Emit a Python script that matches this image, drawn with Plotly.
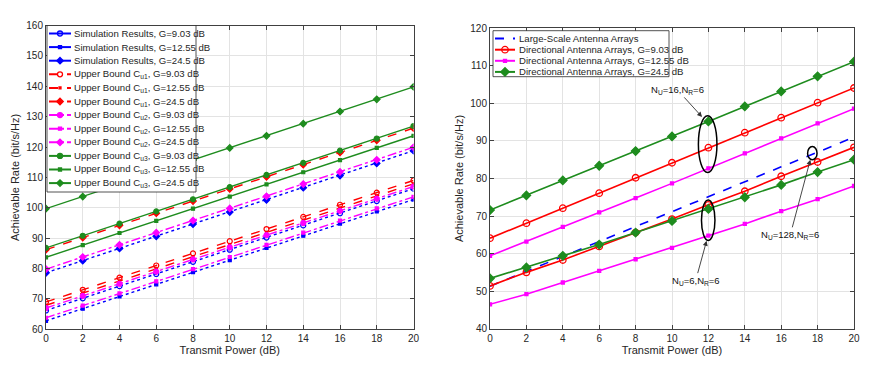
import plotly.graph_objects as go

W, H = 869, 378

# ---------------- data ----------------
power = [0, 2, 4, 6, 8, 10, 12, 14, 16, 18, 20]
x_ticks = [0, 2, 4, 6, 8, 10, 12, 14, 16, 18, 20]
left_y_ticks = [60, 70, 80, 90, 100, 110, 120, 130, 140, 150, 160]
right_y_ticks = [40, 50, 60, 70, 80, 90, 100, 110, 120]

# Left panel
sim_g903 = [66.2, 70.2, 74.2, 78.2, 82.2, 86.2, 90.2, 94.2, 98.2, 102.2, 106.3]
sim_g1255 = [62.8, 66.8, 70.8, 74.8, 78.8, 82.8, 86.8, 90.8, 94.8, 98.8, 102.7]
sim_g245 = [78.6, 82.6, 86.6, 90.6, 94.6, 98.6, 102.6, 106.6, 110.6, 114.6, 118.8]
cu1_g903 = [69.0, 73.0, 77.0, 81.0, 85.0, 89.0, 93.0, 97.0, 101.0, 105.0, 109.0]
cu1_g1255 = [67.9, 71.9, 75.9, 79.9, 83.9, 87.9, 91.9, 95.9, 99.9, 103.9, 107.9]
cu1_g245 = [86.2, 90.2, 94.2, 98.2, 102.2, 106.2, 110.2, 114.2, 118.2, 122.2, 126.2]
cu2_g903 = [67.0, 71.0, 75.0, 79.0, 83.0, 87.0, 91.0, 95.0, 99.0, 103.0, 107.0]
cu2_g1255 = [63.8, 67.8, 71.8, 75.8, 79.8, 83.8, 87.8, 91.8, 95.8, 99.8, 103.6]
cu2_g245 = [79.8, 83.8, 87.8, 91.8, 95.8, 99.8, 103.8, 107.8, 111.8, 115.8, 119.9]
cu3_g903 = [86.8, 90.8, 94.8, 98.8, 102.8, 106.8, 110.8, 114.8, 118.8, 122.8, 126.9]
cu3_g1255 = [83.7, 87.7, 91.7, 95.7, 99.7, 103.7, 107.7, 111.7, 115.7, 119.7, 123.7]
cu3_g245 = [99.7, 103.7, 107.7, 111.7, 115.7, 119.7, 123.7, 127.7, 131.7, 135.7, 139.8]

left_names = [
    "Simulation Results, G=9.03 dB",
    "Simulation Results, G=12.55 dB",
    "Simulation Results, G=24.5 dB",
    "Upper Bound C<sub>u1</sub>, G=9.03 dB",
    "Upper Bound C<sub>u1</sub>, G=12.55 dB",
    "Upper Bound C<sub>u1</sub>, G=24.5 dB",
    "Upper Bound C<sub>u2</sub>, G=9.03 dB",
    "Upper Bound C<sub>u2</sub>, G=12.55 dB",
    "Upper Bound C<sub>u2</sub>, G=24.5 dB",
    "Upper Bound C<sub>u3</sub>, G=9.03 dB",
    "Upper Bound C<sub>u3</sub>, G=12.55 dB",
    "Upper Bound C<sub>u3</sub>, G=24.5 dB",
]
left_series = [sim_g903, sim_g1255, sim_g245, cu1_g903, cu1_g1255, cu1_g245,
               cu2_g903, cu2_g1255, cu2_g245, cu3_g903, cu3_g1255, cu3_g245]

# Right panel
large_scale = [51.3, 55.3, 59.2, 63.2, 67.2, 71.2, 75.1, 79.1, 83.1, 87.0, 91.0]
dir_g903_nu16 = [64.1, 68.1, 72.1, 76.1, 80.2, 84.2, 88.2, 92.2, 96.2, 100.2, 104.1]
dir_g1255_nu16 = [59.4, 63.2, 67.1, 71.0, 74.8, 78.7, 82.7, 86.7, 90.7, 94.7, 98.6]
dir_g245_nu16 = [71.6, 75.5, 79.5, 83.4, 87.3, 91.2, 95.2, 99.2, 103.2, 107.2, 111.1]
dir_g903_nu6 = [51.4, 55.0, 58.3, 61.9, 65.6, 69.2, 73.0, 76.6, 80.6, 84.4, 88.3]
dir_g1255_nu6 = [46.5, 49.2, 52.3, 55.4, 58.5, 61.5, 64.8, 67.9, 71.3, 74.5, 78.0]
dir_g245_nu6 = [53.4, 56.3, 59.4, 62.4, 65.6, 68.7, 71.9, 75.0, 78.3, 81.7, 85.0]

right_names = [
    "Large-Scale Antenna Arrays",
    "Directional Antenna Arrays, G=9.03 dB",
    "Directional Antenna Arrays, G=12.55 dB",
    "Directional Antenna Arrays, G=24.5 dB",
]

# ---------------- styles ----------------
BLUE, RED, MAG, GRN = "#0000FF", "#FF0000", "#FF00FF", "#1E8C1E"
FONT = "Liberation Sans, Arial, sans-serif"
TXT = "#262626"

# (color, dash, symbol, size, legend_dash)
left_styles = [
    (BLUE, "dot", "circle-open", 5, "solid"),
    (BLUE, "dot", "square", 3, "solid"),
    (BLUE, "dot", "diamond", 5, "solid"),
    (RED, "dash", "circle-open", 5, "dash"),
    (RED, "dash", "square", 2, "dash"),
    (RED, "dash", "diamond", 5, "dash"),
    (MAG, "dashdot", "circle", 5, "dashdot"),
    (MAG, "dashdot", "square", 3, "dashdot"),
    (MAG, "dashdot", "diamond", 5, "dashdot"),
    (GRN, "solid", "circle", 5, "solid"),
    (GRN, "solid", "square", 3, "solid"),
    (GRN, "solid", "diamond", 5, "solid"),
]
right_styles = [
    (BLUE, "dash", None, 0, "dash"),
    (RED, "solid", "circle-open", 6.5, "solid"),
    (MAG, "solid", "square", 3, "solid"),
    (GRN, "solid", "diamond", 6.5, "solid"),
]

fig = go.Figure()

# left traces
for ys, (col, dash, sym, sz, _ld) in zip(left_series, left_styles):
    fig.add_trace(go.Scatter(
        x=power, y=ys, mode="lines+markers", xaxis="x", yaxis="y",
        line=dict(color=col, width=1.4, dash=dash),
        marker=dict(symbol=sym, size=sz, color=col, line=dict(color=col, width=1.2)),
        showlegend=False, hoverinfo="skip"))

# right traces
right_series = [
    (large_scale, 0), (dir_g903_nu16, 1), (dir_g1255_nu16, 2), (dir_g245_nu16, 3),
    (dir_g903_nu6, 1), (dir_g1255_nu6, 2), (dir_g245_nu6, 3),
]
for ys, si in right_series:
    col, dash, sym, sz, _ld = right_styles[si]
    fig.add_trace(go.Scatter(
        x=power, y=ys, mode="lines+markers" if sym else "lines",
        xaxis="x2", yaxis="y2",
        line=dict(color=col, width=1.6, dash=dash),
        marker=dict(symbol=sym or "circle", size=sz, color=col,
                    line=dict(color=col, width=1.3)),
        showlegend=False, hoverinfo="skip"))

# ---------------- manual legends (overlay pixel axis) ----------------
annotations = []


def add_legend(names, styles, box, row0, step, sx0, sx1, tx, fsize):
    bx0, by0, bx1, by1 = box
    fig.add_trace(go.Scatter(
        x=[bx0, bx1, bx1, bx0, bx0], y=[by0, by0, by1, by1, by0],
        mode="lines", fill="toself", fillcolor="white",
        line=dict(color=TXT, width=0.8), xaxis="x3", yaxis="y3",
        showlegend=False, hoverinfo="skip"))
    for i, (name, (col, dash, sym, sz, ldash)) in enumerate(zip(names, styles)):
        yy = row0 + i * step
        fig.add_trace(go.Scatter(
            x=[sx0, (sx0 + sx1) / 2, sx1], y=[yy, yy, yy],
            mode="lines+markers" if sym else "lines", xaxis="x3", yaxis="y3",
            line=dict(color=col, width=2, dash=ldash),
            marker=dict(symbol=sym or "circle", size=sz, color=col,
                        opacity=[0, 1, 0], line=dict(color=col, width=1.3)),
            showlegend=False, hoverinfo="skip"))
        annotations.append(dict(
            text=name, x=tx / W, y=1 - yy / H, xref="paper", yref="paper",
            xanchor="left", yanchor="middle", showarrow=False,
            font=dict(family=FONT, size=fsize, color=TXT)))


add_legend(left_names, left_styles, (47, 25.5, 196, 192), 33.5, 13.6, 49, 71, 72, 9.6)
add_legend(right_names, right_styles, (493, 30.7, 669, 76.7), 38.6, 11.1, 495, 515, 516.5, 9.6)

# ---------------- right-panel annotations ----------------
ann_font = dict(family=FONT, size=9.5, color="#111111")
arrow_common = dict(xref="x2", yref="y2", axref="x2", ayref="y2", showarrow=True,
                    arrowhead=2, arrowsize=1.1, arrowwidth=0.9, arrowcolor="#333333",
                    font=ann_font)
annotations.append(dict(text="N<sub>U</sub>=16,N<sub>R</sub>=6",
                        x=11.65, y=96.4, ax=10.3, ay=103.6, **arrow_common))
annotations.append(dict(text="N<sub>U</sub>=128,N<sub>R</sub>=6",
                        x=17.6, y=85.0, ax=16.5, ay=65.0, **arrow_common))
annotations.append(dict(text="N<sub>U</sub>=6,N<sub>R</sub>=6",
                        x=11.9, y=63.4, ax=11.3, ay=52.8, **arrow_common))

shapes = [
    dict(type="circle", xref="x2", yref="y2", x0=11.45, x1=12.47, y0=81.6, y1=96.7,
         line=dict(color="black", width=1.5)),
    dict(type="circle", xref="x2", yref="y2", x0=17.45, x1=17.97, y0=85.0, y1=88.5,
         line=dict(color="black", width=1.5)),
    dict(type="circle", xref="x2", yref="y2", x0=11.62, x1=12.36, y0=63.5, y1=74.3,
         line=dict(color="black", width=1.5)),
]

# ---------------- axes ----------------
axis_common = dict(
    showline=True, mirror="ticks", linecolor="#404040", linewidth=1,
    ticks="inside", ticklen=4, tickcolor="#404040",
    showgrid=True, gridcolor="#E3E3E3", gridwidth=1, zeroline=False,
    tickfont=dict(family=FONT, size=10, color=TXT), fixedrange=True,
    automargin=False,
)
xtitle = dict(text="Transmit Power (dB)", font=dict(family=FONT, size=11, color=TXT), standoff=3)
ytitle = dict(text="Achievable Rate (bit/s/Hz)", font=dict(family=FONT, size=11, color=TXT), standoff=4)

fig.update_layout(
    width=W, height=H,
    autosize=False,
    margin=dict(l=0, r=0, t=0, b=0, pad=0, autoexpand=False),
    paper_bgcolor="white", plot_bgcolor="rgba(0,0,0,0)",
    showlegend=False,
    xaxis=dict(domain=[46 / W, 413.5 / W], range=[0, 20], tickvals=x_ticks,
               anchor="y", title=xtitle, **axis_common),
    yaxis=dict(domain=[(H - 329.3) / H, (H - 25.5) / H], range=[60, 160],
               tickvals=left_y_ticks, anchor="x", title=ytitle, **axis_common),
    xaxis2=dict(domain=[490 / W, 854 / W], range=[0, 20], tickvals=x_ticks,
                anchor="y2", title=xtitle, **axis_common),
    yaxis2=dict(domain=[(H - 328.7) / H, (H - 28.3) / H], range=[40, 120],
                tickvals=right_y_ticks, anchor="x2", title=ytitle, **axis_common),
    xaxis3=dict(domain=[0, 1], range=[0, W], visible=False, anchor="y3",
                fixedrange=True, automargin=False),
    yaxis3=dict(domain=[0, 1], range=[H, 0], visible=False, anchor="x3",
                fixedrange=True, automargin=False),
    annotations=annotations,
    shapes=shapes,
    font=dict(family=FONT, color=TXT),
)

fig.write_html(
    "out.html",
    config={"displayModeBar": False, "responsive": False},
    post_script="document.body.style.margin='0';document.body.style.overflow='hidden';",
)
